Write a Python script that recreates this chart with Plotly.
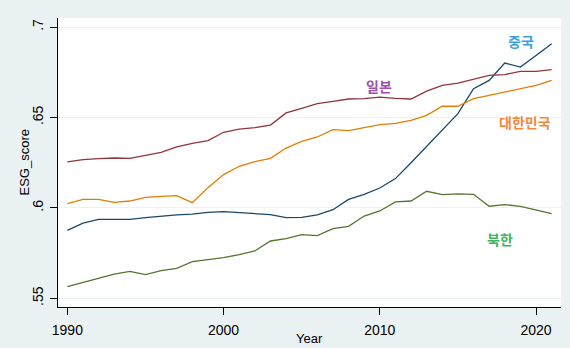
import plotly.graph_objects as go

years = list(range(1990, 2022))

china = [0.5876, 0.5916, 0.5937, 0.5938, 0.5937, 0.5946, 0.5955, 0.5961, 0.5966, 0.5975,
         0.5979, 0.5974, 0.5970, 0.5963, 0.5946, 0.5948, 0.5961, 0.5990, 0.6047, 0.6075,
         0.6110, 0.6162, 0.6250, 0.6340, 0.6430, 0.6521, 0.6659, 0.6705, 0.6801, 0.6779,
         0.6843, 0.6908]
japan = [0.6255, 0.6267, 0.6272, 0.6276, 0.6274, 0.6289, 0.6307, 0.6337, 0.6357, 0.6372,
         0.6418, 0.6436, 0.6444, 0.6458, 0.6525, 0.6550, 0.6576, 0.6589, 0.6602, 0.6604,
         0.6612, 0.6606, 0.6602, 0.6646, 0.6678, 0.6690, 0.6711, 0.6733, 0.6737, 0.6755,
         0.6755, 0.6764]
korea = [0.6024, 0.6047, 0.6047, 0.6031, 0.6038, 0.6058, 0.6064, 0.6068, 0.6029, 0.6112,
         0.6184, 0.6230, 0.6256, 0.6274, 0.6331, 0.6368, 0.6392, 0.6433, 0.6427, 0.6442,
         0.6460, 0.6467, 0.6484, 0.6512, 0.6562, 0.6562, 0.6604, 0.6622, 0.6641, 0.6659,
         0.6678, 0.6705]
nkorea = [0.5565, 0.5587, 0.5611, 0.5634, 0.5649, 0.5631, 0.5653, 0.5666, 0.5703, 0.5712,
          0.5725, 0.5742, 0.5762, 0.5817, 0.5830, 0.5852, 0.5847, 0.5885, 0.5898, 0.5955,
          0.5983, 0.6033, 0.6038, 0.6092, 0.6073, 0.6077, 0.6075, 0.6009, 0.6018, 0.6009,
          0.5990, 0.5968]

series_names = ["China", "Japan", "Korea", "North Korea"]
label_text = ["중국", "일본", "대한민국", "북한"]
label_x = [2019.05, 2009.92, 2019.3, 2017.7]
label_y = [0.6921, 0.6672, 0.6473, 0.5826]

y_tickvals = [0.55, 0.6, 0.65, 0.7]
y_ticktext = [".55", ".6", ".65", ".7"]
x_tickvals = [1990, 2000, 2010, 2020]

line_colors = ["#1a476f", "#90353b", "#e37e00", "#55752f"]
label_colors = ["#3aa3de", "#a04fae", "#f28a3e", "#3fb35e"]

fig = go.Figure()
for name, vals, col in zip(series_names, [china, japan, korea, nkorea], line_colors):
    fig.add_trace(go.Scatter(x=years, y=vals, mode="lines", name=name,
                             line=dict(color=col, width=1.3)))

for t, x, y, c in zip(label_text, label_x, label_y, label_colors):
    fig.add_annotation(x=x, y=y, text="<b>" + t + "</b>", showarrow=False,
                       font=dict(family="Noto Sans CJK KR", size=14, color=c),
                       xanchor="center", yanchor="middle")

axis_font = dict(family="Liberation Sans, Arial", size=13, color="#000000")
# axis titles
fig.add_annotation(x=0, y=0.5, xref="paper", yref="paper", text="ESG_score",
                   textangle=-90, showarrow=False, xanchor="center", yanchor="middle",
                   xshift=-34, font=axis_font)
fig.add_annotation(x=0.5, y=0, xref="paper", yref="paper", text="Year",
                   showarrow=False, xanchor="center", yanchor="middle",
                   yshift=-31, font=axis_font)

fig.update_layout(
    width=570, height=348,
    margin=dict(l=58, r=9, t=18, b=41),
    paper_bgcolor="#eaf2f3",
    plot_bgcolor="#ffffff",
    showlegend=False,
    font=axis_font,
    xaxis=dict(range=[1989.4, 2021.6], tickvals=x_tickvals, showgrid=False,
               zeroline=False, showline=True, linecolor="#000000", linewidth=1,
               ticks="outside", ticklen=7, tickcolor="#000000",
               ticklabelstandoff=3, automargin=False,
               tickfont=dict(size=14)),
    yaxis=dict(range=[0.5452, 0.705], tickvals=y_tickvals, ticktext=y_ticktext,
               showgrid=True, gridcolor="#eaf2f3", gridwidth=1,
               zeroline=False, showline=True, linecolor="#000000", linewidth=1,
               ticks="outside", ticklen=7, tickcolor="#000000", tickangle=-90,
               ticklabelstandoff=1, automargin=False,
               tickfont=dict(size=14)),
)

fig.write_html("out.html")
